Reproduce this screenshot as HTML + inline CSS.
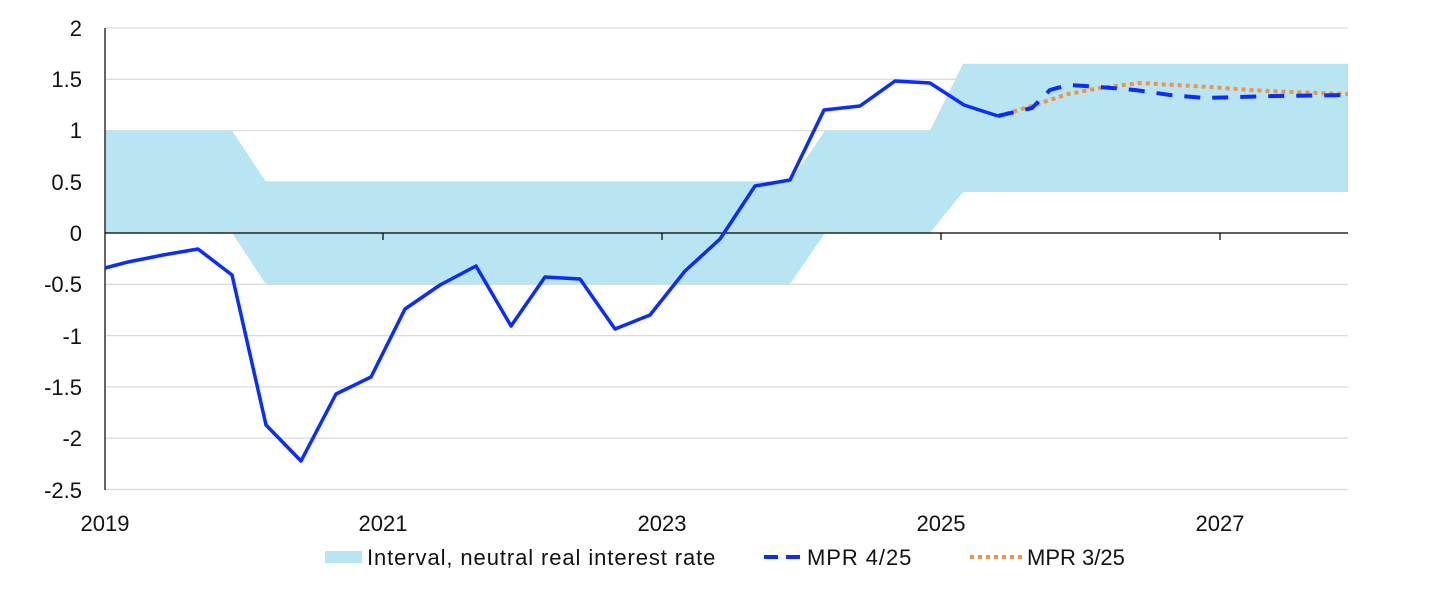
<!DOCTYPE html>
<html><head><meta charset="utf-8"><style>
html,body{margin:0;padding:0;background:#fff;}
svg text{font-family:"Liberation Sans",sans-serif;font-size:22px;fill:#111;}
.lg{letter-spacing:0.6px;}
</style></head><body>
<svg width="1445" height="588" viewBox="0 0 1445 588" xmlns="http://www.w3.org/2000/svg">
<g stroke="#dcdcdc" stroke-width="1.3">
<line x1="105" x2="1348" y1="28" y2="28"/>
<line x1="105" x2="1348" y1="79.3" y2="79.3"/>
<line x1="105" x2="1348" y1="130.6" y2="130.6"/>
<line x1="105" x2="1348" y1="181.9" y2="181.9"/>
<line x1="105" x2="1348" y1="284.3" y2="284.3"/>
<line x1="105" x2="1348" y1="335.6" y2="335.6"/>
<line x1="105" x2="1348" y1="386.9" y2="386.9"/>
<line x1="105" x2="1348" y1="438.2" y2="438.2"/>
<line x1="105" x2="1348" y1="489.5" y2="489.5"/>
</g>
<polygon fill="#b8e5f1" points="105,130.6 232,130.6 266,181.9 790,181.9 825,130.6 930,130.6 963,63.7 1348,63.7 1348,192 963,192 930,233 825,233 790,284.3 266,284.3 232,233 105,233"/>
<line x1="105" x2="1348" y1="233" y2="233" stroke="#000" stroke-width="1.2"/>
<line x1="105" x2="105" y1="28" y2="490" stroke="#000" stroke-width="1.2"/>
<g stroke="#000" stroke-width="1.2">
<line x1="383" x2="383" y1="233" y2="240"/><line x1="662" x2="662" y1="233" y2="240"/><line x1="941" x2="941" y1="233" y2="240"/><line x1="1220" x2="1220" y1="233" y2="240"/>
</g>
<g text-anchor="end">
<text x="82" y="36">2</text><text x="82" y="87">1.5</text><text x="82" y="138">1</text><text x="82" y="190">0.5</text><text x="82" y="241">0</text><text x="82" y="292">-0.5</text><text x="82" y="344">-1</text><text x="82" y="395">-1.5</text><text x="82" y="446">-2</text><text x="82" y="498">-2.5</text>
</g>
<g text-anchor="middle">
<text x="105" y="531">2019</text><text x="383" y="531">2021</text><text x="662" y="531">2023</text><text x="941" y="531">2025</text><text x="1220" y="531">2027</text>
</g>
<polyline fill="none" stroke="#f0924a" stroke-width="4" stroke-dasharray="4,4" points="998,116 1032,106 1068,94 1100,88 1140,83 1175,85 1210,87 1250,90 1290,92 1348,94"/>
<polyline fill="none" stroke="#0a2cff" stroke-width="3.5" stroke-linejoin="round" points="105,268 128,262 163,255 198,249 232,275 266,425 301,461 336,394 371,377 405,309 440,285 476,266 511,326 545,277 580,279 615,329 650,315 685,271 720,239 755,186 790,180 824,110 860,106 895,81 930,83 964,105 998,116"/>
<polyline fill="none" stroke="#0a2cff" stroke-width="4" stroke-dasharray="16,12" points="998,116 1032,108 1050,90 1068,85 1100,87 1135,90 1170,95 1205,98 1240,97 1275,96 1348,95"/>
<rect x="325" y="551" width="37" height="12" fill="#b8e5f1"/>
<text class="lg" x="367" y="565" textLength="349">Interval, neutral real interest rate</text>
<line x1="764" x2="806" y1="557" y2="557" stroke="#0a2cff" stroke-width="4" stroke-dasharray="14,8"/>
<text class="lg" x="807" y="565" textLength="105">MPR 4/25</text>
<line x1="970" x2="1026" y1="557" y2="557" stroke="#f0924a" stroke-width="4" stroke-dasharray="4,4"/>
<text x="1027" y="565">MPR 3/25</text>
</svg>
</body></html>
